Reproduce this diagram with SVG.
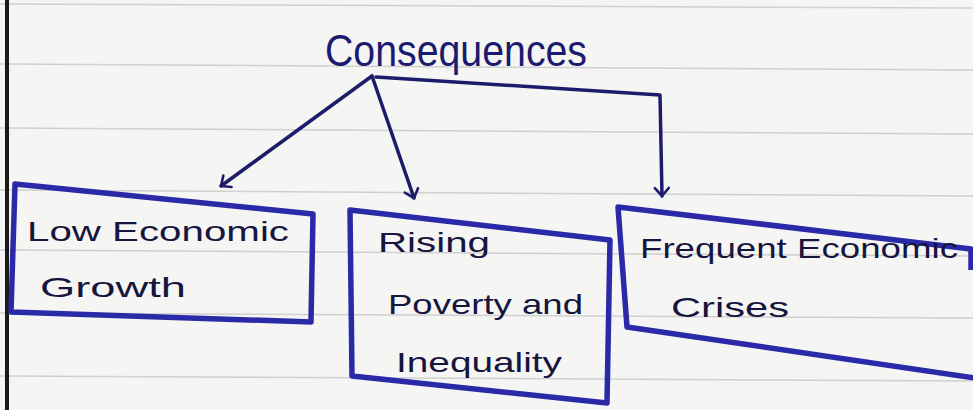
<svg xmlns="http://www.w3.org/2000/svg" width="973" height="410" viewBox="0 0 973 410">
<style>
.rule{stroke:#d0d0d0;stroke-width:1.5;fill:none}
.box{fill:none;stroke:#2a2aa8;stroke-width:5.5;stroke-linejoin:round}
.conn{fill:none;stroke:#1c1c6a;stroke-width:3.5;stroke-linecap:round;stroke-linejoin:round}
.t{font-family:"Liberation Sans","DejaVu Sans",sans-serif;font-size:28px;fill:#15153e}
.title{font-family:"Liberation Sans","DejaVu Sans",sans-serif;font-size:44px;fill:#1a1a70}
</style>
<defs>
<marker id="arr" viewBox="-10 -10 20 20" refX="0" refY="0" markerWidth="20" markerHeight="20" orient="auto" markerUnits="userSpaceOnUse">
<path d="M-8,-7 L0,0 L-8,7" fill="none" stroke="#1c1c6a" stroke-width="2.6" stroke-linecap="round" stroke-linejoin="round"/>
</marker>
</defs>
<rect width="973" height="410" fill="#f5f5f4"/>
<g id="paper">
<path class="rule" d="M0,4 L973,8"/>
<path class="rule" d="M0,64 L973,70"/>
<path class="rule" d="M0,128 L973,134"/>
<path class="rule" d="M0,190 L973,196"/>
<path class="rule" d="M0,250 L973,256"/>
<path class="rule" d="M0,313 L973,318"/>
<path class="rule" d="M0,376 L973,381"/>
<path d="M7,0 L7,410" stroke="#1a1a1a" stroke-width="4"/>
</g>
<g id="title">
<text class="title" x="325" y="66" textLength="262" lengthAdjust="spacingAndGlyphs">Consequences</text>
</g>
<g id="connectors">
<path class="conn" d="M372,76 L221,186" marker-end="url(#arr)"/>
<path class="conn" d="M372,76 L414,198" marker-end="url(#arr)"/>
<path class="conn" d="M376,77 L660,95 L662,196" marker-end="url(#arr)"/>
</g>
<g id="node-low-growth">
<path class="box" d="M15,184 L313,214 L311,322 L11,312 Z"/>
<text class="t" x="27" y="241" textLength="262" lengthAdjust="spacingAndGlyphs">Low Economic</text>
<text class="t" x="40" y="297" textLength="146" lengthAdjust="spacingAndGlyphs">Growth</text>
</g>
<g id="node-poverty">
<path class="box" d="M350,210 L610,240 L607,403 L352,376 Z"/>
<text class="t" x="378" y="252" textLength="112" lengthAdjust="spacingAndGlyphs">Rising</text>
<text class="t" x="388" y="314" textLength="195" lengthAdjust="spacingAndGlyphs">Poverty and</text>
<text class="t" x="396" y="372" textLength="166" lengthAdjust="spacingAndGlyphs">Inequality</text>
</g>
<g id="node-crises">
<path class="box" d="M971,270 L971,249 L618,207 L627,327 L975,378"/>
<text class="t" x="640" y="258" textLength="318" lengthAdjust="spacingAndGlyphs">Frequent Economic</text>
<text class="t" x="671" y="317" textLength="118" lengthAdjust="spacingAndGlyphs">Crises</text>
</g>
</svg>
